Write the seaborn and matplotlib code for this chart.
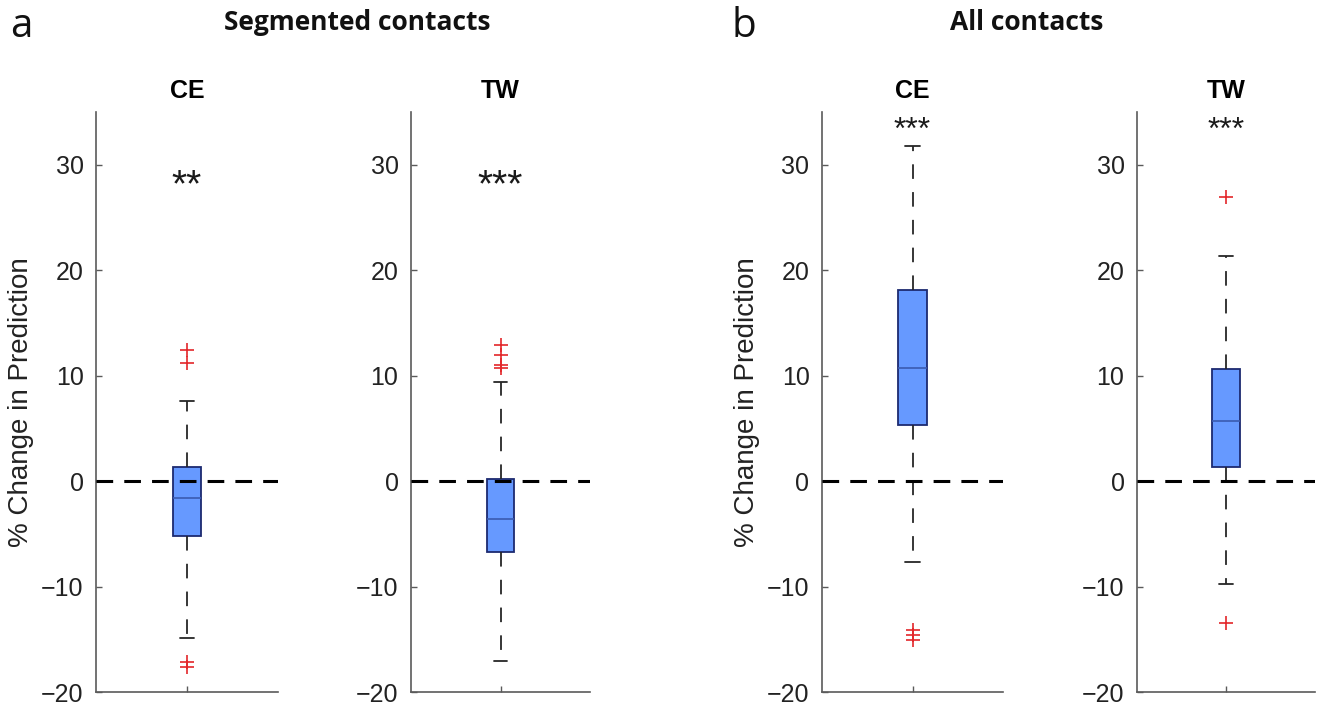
import matplotlib
matplotlib.use("Agg")
import matplotlib.pyplot as plt
import seaborn as sns

# Box-plot summaries (% change in prediction) for each condition
groups = ["CE", "TW", "CE", "TW"]
q1 = [-5.19, -6.76, 5.35, 1.32]
medians = [-1.58, -3.56, 10.75, 5.69]
q3 = [1.35, 0.16, 18.08, 10.63]
whisker_low = [-14.87, -17.05, -7.7, -9.72]
whisker_high = [7.58, 9.43, 31.8, 21.3]
outliers = [
    [12.4, 11.2, -17.2, -17.6],
    [12.9, 12.0, 11.0, 10.7],
    [-14.1, -14.6, -15.1],
    [26.9, -13.42],
]
stars = ["**", "***", "***", "***"]
star_y = [28.0, 28.0, 33.2, 33.2]
yticks = [-20, -10, 0, 10, 20, 30]

sns.set_theme(style="ticks")
plt.rcParams["font.family"] = ["Liberation Sans", "DejaVu Sans"]
plt.rcParams["lines.scale_dashes"] = False

fig = plt.figure(figsize=(13.24, 7.07), dpi=100)

W, H = 1324, 707
ax_px = [(96, 182), (411, 179), (822, 181), (1137, 178)]
bottom = 1 - 692 / H
height = 580 / H

spine_col = "#5a5a5a"
box_face = "#6699ff"
box_edge = "#1c2a70"
median_col = "#3a5bb0"
flier_col = "#e3262a"

for i, (lx, w) in enumerate(ax_px):
    ax = fig.add_axes([lx / W, bottom, w / W, height])
    stats = [{
        "med": medians[i], "q1": q1[i], "q3": q3[i],
        "whislo": whisker_low[i], "whishi": whisker_high[i],
        "fliers": outliers[i], "label": "",
    }]
    ax.bxp(
        stats, positions=[1], widths=0.155, capwidths=0.078,
        patch_artist=True, showfliers=True,
        boxprops=dict(facecolor=box_face, edgecolor=box_edge, linewidth=1.3),
        medianprops=dict(color=median_col, linewidth=1.2),
        whiskerprops=dict(color="#262626", linewidth=1.3,
                          linestyle=(0, (10.5, 9.5))),
        capprops=dict(color="#262626", linewidth=1.3),
        flierprops=dict(marker="+", markeredgecolor=flier_col,
                        markersize=10, markeredgewidth=1.2, linestyle="none"),
    )
    ax.axhline(0, color="black", linewidth=2.2,
               linestyle=(0, (12, 8)), zorder=5)
    ax.set_xlim(0.5, 1.5)
    ax.set_ylim(-20, 35)
    ax.set_yticks(yticks)
    ax.set_xticks([1])
    ax.set_xticklabels([""])
    ax.tick_params(axis="both", direction="in", length=4, width=1.0,
                   color=spine_col, labelsize=18, labelcolor="#222222",
                   pad=9)
    for s in ("left", "bottom"):
        ax.spines[s].set_color(spine_col)
        ax.spines[s].set_linewidth(1.2)
    sns.despine(ax=ax)
    ax.set_title(groups[i], fontsize=18, fontweight="bold", pad=10,
                 color="black")
    star_fs = 28 if i < 2 else 23
    ax.text(1, star_y[i], stars[i], ha="center", va="center",
            fontsize=star_fs, color="#1a1a1a")
    if i in (0, 2):
        ax.set_ylabel("% Change in Prediction", fontsize=20,
                      color="#222222", labelpad=5)

# Panel letters and headers
fig.text(10 / W, 1 - 27 / H, "a", fontsize=29, family="Open Sans",
         ha="left", va="center", color="#111111")
fig.text(732 / W, 1 - 27 / H, "b", fontsize=29, family="Open Sans",
         ha="left", va="center", color="#111111")
fig.text(357 / W, 1 - 22 / H, "Segmented contacts", fontsize=19,
         family="Open Sans", fontweight="bold", ha="center", va="center",
         color="#111111")
fig.text(1027 / W, 1 - 22 / H, "All contacts", fontsize=19,
         family="Open Sans", fontweight="bold", ha="center", va="center",
         color="#111111")

fig.savefig("out.png", dpi=100, facecolor="white")
